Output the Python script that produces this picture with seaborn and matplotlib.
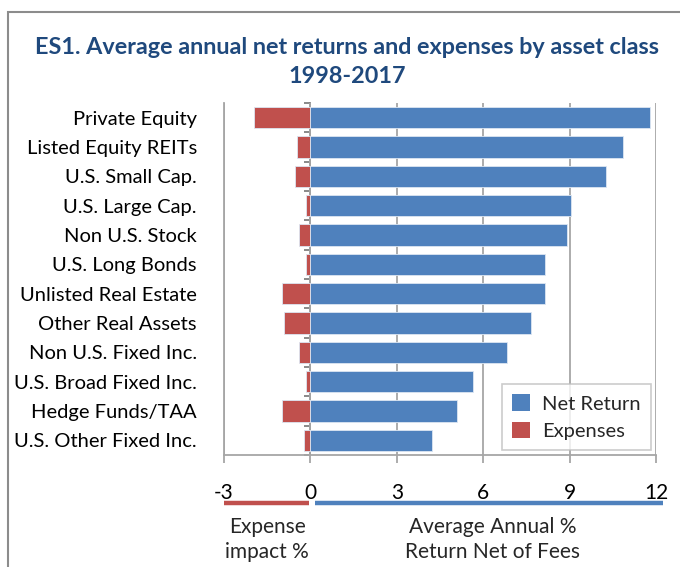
import pandas as pd
import numpy as np
import seaborn as sns
import matplotlib.pyplot as plt
from matplotlib.patches import Rectangle
from matplotlib.transforms import blended_transform_factory

# Chart data
categories = [
    'Private Equity', 'Listed Equity REITs', 'U.S. Small Cap.',
    'U.S. Large Cap.', 'Non U.S. Stock', 'U.S. Long Bonds',
    'Unlisted Real Estate', 'Other Real Assets', 'Non U.S. Fixed Inc.',
    'U.S. Broad Fixed Inc.', 'Hedge Funds/TAA', 'U.S. Other Fixed Inc.']
net_return = [11.79, 10.87, 10.27, 9.05, 8.91, 8.13,
              8.13, 7.67, 6.82, 5.65, 5.08, 4.21]
expenses = [-1.97, -0.47, -0.53, -0.15, -0.41, -0.15,
            -0.99, -0.93, -0.41, -0.15, -0.99, -0.22]
x_ticks = [-3, 0, 3, 6, 9, 12]
x_tick_labels = ['-3', '0', '3', '6', '9', '12']

blue = '#4F81BD'
red = '#C0504D'
grid_gray = '#A6A6A6'

sns.set_style('white')
plt.rcParams['font.family'] = ['Lato', 'DejaVu Sans']

df = pd.DataFrame({'Name': categories, 'Net Return': net_return,
                   'Expenses': expenses})
long_df = df.melt(id_vars='Name', var_name='Series', value_name='Value')

fig = plt.figure(figsize=(6.8, 5.67), dpi=100)
ax = fig.add_axes([224 / 680, 1 - 455 / 567, 432 / 680, 352 / 567])

sns.barplot(data=long_df, x='Value', y='Name', hue='Series',
            order=categories, hue_order=['Net Return', 'Expenses'],
            palette=[blue, red], saturation=1, dodge=False, width=0.72,
            edgecolor='#DCE6F2', linewidth=0.6, ax=ax, zorder=3)

ax.set_xlim(x_ticks[0], x_ticks[-1])
ax.set_xticks(x_ticks)
ax.set_xticklabels(x_tick_labels)
ax.set_xlabel(None)
ax.set_ylabel(None)
ax.xaxis.grid(True, color=grid_gray, linewidth=1.3, zorder=0)
ax.set_axisbelow(True)
for s in ['top', 'right']:
    ax.spines[s].set_visible(False)
for s in ['left', 'bottom']:
    ax.spines[s].set_color(grid_gray)
    ax.spines[s].set_linewidth(1.3)
ax.tick_params(axis='x', bottom=True, length=6, width=1.3, color=grid_gray,
               pad=14, labelsize=15, labelcolor='black')
ax.tick_params(axis='y', left=False, labelsize=14.5, labelcolor='black',
               pad=16)

# Vertical axis at zero with tick marks between categories
frac0 = (0 - x_ticks[0]) / (x_ticks[-1] - x_ticks[0])
sec = ax.secondary_yaxis(frac0)
sec.set_yticks(np.arange(len(categories) + 1) - 0.5)
sec.set_yticklabels([])
sec.tick_params(length=4, width=1.3, color='#808080')
sec.spines['left'].set_color('#808080')
sec.spines['left'].set_linewidth(1.3)
ax.set_ylim(len(categories) - 0.5, -0.5)

leg = ax.legend(loc='lower right', bbox_to_anchor=(0.988, 0.014),
                borderaxespad=0, fontsize=14.5, frameon=True, fancybox=False,
                edgecolor='#BFBFBF', handlelength=0.9, handleheight=0.9,
                handletextpad=0.6, borderpad=0.5, labelspacing=0.45)
leg.get_frame().set_linewidth(1.2)
for h in leg.legend_handles:
    h.set_edgecolor('none')

# Coloured bars beneath the axis labels
trans = blended_transform_factory(ax.transData, ax.transAxes)
ax.plot([x_ticks[0], -0.06], [-0.137, -0.137], color=red, lw=3.2,
        transform=trans, clip_on=False, solid_capstyle='butt')
ax.plot([0.15, 12.24], [-0.137, -0.137], color=blue, lw=3.2,
        transform=trans, clip_on=False, solid_capstyle='butt')
ax.text(-1.5, -0.24, 'Expense\nimpact %', transform=trans, ha='center',
        va='center', fontsize=15, linespacing=1.3)
ax.text(6.33, -0.24, 'Average Annual %\nReturn Net of Fees',
        transform=trans, ha='center', va='center', fontsize=15,
        linespacing=1.3)

fig.text(347 / 680, 1 - 48 / 567,
         'ES1. Average annual net returns and expenses by asset class',
         ha='center', va='center', fontsize=16.8, fontweight='bold',
         color='#1F497D')
fig.text(347 / 680, 1 - 77 / 567, '1998-2017', ha='center', va='center',
         fontsize=16.8, fontweight='bold', color='#1F497D')

# Chart area border
fig.patches.append(Rectangle((8 / 680, -0.1), 1.2, 1.1 - 12 / 567,
                             transform=fig.transFigure, fill=False,
                             edgecolor='#8C8C8C', linewidth=1.5))

fig.savefig('out.png', dpi=100)
